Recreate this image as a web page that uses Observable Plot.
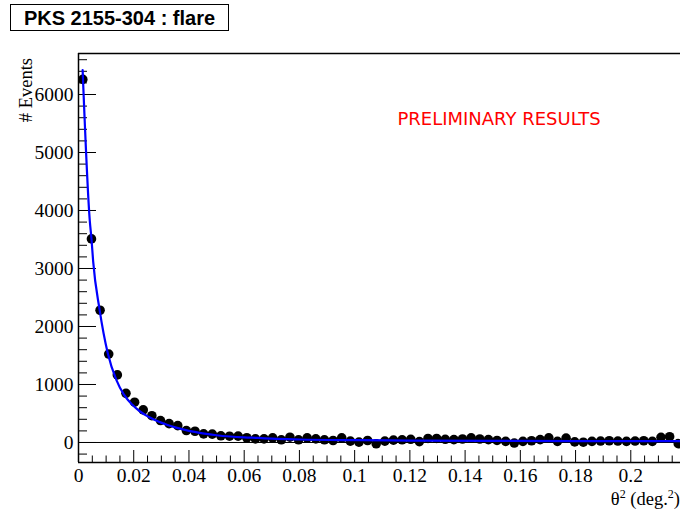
<!DOCTYPE html>
<html>
<head>
<meta charset="utf-8">
<script src="https://cdn.jsdelivr.net/npm/d3@7"></script>
<script src="https://cdn.jsdelivr.net/npm/@observablehq/plot@0.6"></script>
<style>
  html, body { margin: 0; padding: 0; background: #fff; }
  #wrap { position: relative; width: 680px; height: 514px; overflow: hidden; }
  #title { position: absolute; left: 10px; top: 4px; width: 217px; height: 25px;
    border: 1.5px solid #000; font: bold 20px "Liberation Sans", Arial, sans-serif;
    text-align: center; line-height: 26px; color: #000; background: #fff; z-index: 2; }
</style>
</head>
<body>
<div id="wrap"><div id="title">PKS 2155-304 : flare</div></div>
<script>
// bin centres of theta^2 (deg^2)
const theta2 = [0.00156,0.00469,0.00781,0.01094,0.01406,0.01719,0.02031,0.02344,0.02656,0.02969,
  0.03281,0.03594,0.03906,0.04219,0.04531,0.04844,0.05156,0.05469,0.05781,0.06094,
  0.06406,0.06719,0.07031,0.07344,0.07656,0.07969,0.08281,0.08594,0.08906,0.09219,
  0.09531,0.09844,0.10156,0.10469,0.10781,0.11094,0.11406,0.11719,0.12031,0.12344,
  0.12656,0.12969,0.13281,0.13594,0.13906,0.14219,0.14531,0.14844,0.15156,0.15469,
  0.15781,0.16094,0.16406,0.16719,0.17031,0.17344,0.17656,0.17969,0.18281,0.18594,
  0.18906,0.19219,0.19531,0.19844,0.20156,0.20469,0.20781,0.21094,0.21406,0.21719];
// events per bin
const events = [6260,3510,2280,1525,1165,847,695,562,462,378,
  325,290,206,194,149,145,115,108,110,82,
  62,63,80,46,91,46,80,63,46,34,
  80,23,6,34,-23,23,40,46,55,15,
  70,70,55,50,60,80,60,50,35,20,
  -10,20,30,50,80,20,75,10,5,20,
  25,30,25,20,25,30,20,90,100,-20];
// visible error bar half-heights (first bins)
const errors = [80,59,48,39,34];
// fit curve
const fitX = [0.0015,0.0041,0.0047,0.0053,0.0076,0.0106,0.0137,0.0164,0.0195,0.0224,0.0255,0.0287,0.032,0.035,0.04,0.045,0.05,0.055,0.06,0.065,0.07,0.08,0.1,0.12,0.15,0.18,0.218];
const fitY = [6420,3814,3510,3127,2300,1540,1080,830,650,530,440,365,305,260,200,158,125,103,88,78,65,52,40,33,28,24,22];

const xTicksMajor = [0,0.02,0.04,0.06,0.08,0.1,0.12,0.14,0.16,0.18,0.2];
const xTicksMinor = [0.005,0.01,0.015,0.025,0.03,0.035,0.045,0.05,0.055,0.065,0.07,0.075,0.085,0.09,0.095,0.105,0.11,0.115,0.125,0.13,0.135,0.145,0.15,0.155,0.165,0.17,0.175,0.185,0.19,0.195,0.205,0.21,0.215];
const yTicksMajor = [0,1000,2000,3000,4000,5000,6000];
const yTicksMinor = [-200,200,400,600,800,1200,1400,1600,1800,2200,2400,2600,2800,3200,3400,3600,3800,4200,4400,4600,4800,5200,5400,5600,5800,6200,6400,6600];

const xDomain = [0, 0.218];
const yDomain = [-345, 6707];

const points = theta2.map((x, i) => ({x, y: events[i], e: errors[i] || 0}));
const fit = fitX.map((x, i) => ({x, y: fitY[i]}));

const W = 680, H = 514, mL = 78, mT = 53, mB = 52, mR = 0;
const fw = W - mL - mR, fh = H - mT - mB;

const plot = Plot.plot({
  width: W, height: H,
  marginLeft: mL, marginTop: mT, marginBottom: mB, marginRight: mR,
  style: {fontFamily: '"Liberation Serif", "Times New Roman", serif', fontSize: "19.5px", color: "#000", background: "#fff"},
  x: {domain: xDomain},
  y: {domain: yDomain},
  marks: [
    Plot.ruleY([0], {stroke: "#000", strokeWidth: 1}),
    Plot.tickX(xTicksMajor, {x: d => d, stroke: "#000", strokeWidth: 1, insetTop: fh - 12}),
    Plot.tickX(xTicksMinor, {x: d => d, stroke: "#000", strokeWidth: 1, insetTop: fh - 6.5}),
    Plot.tickY(yTicksMajor, {y: d => d, stroke: "#000", strokeWidth: 1, insetRight: fw - 18}),
    Plot.tickY(yTicksMinor, {y: d => d, stroke: "#000", strokeWidth: 1, insetRight: fw - 9}),
    Plot.ruleX(points.filter(d => d.e > 0), {x: "x", y1: d => d.y - d.e, y2: d => d.y + d.e, stroke: "#000", strokeWidth: 1.5}),
    Plot.dot(points, {x: "x", y: "y", r: 4.8, fill: "#000", stroke: "none"}),
    Plot.line(fit, {x: "x", y: "y", stroke: "#0000ff", strokeWidth: 2.2, curve: "monotone-x"}),
    Plot.ruleX([xDomain[0]], {stroke: "#000", strokeWidth: 1.5}),
    Plot.ruleY([yDomain[0]], {stroke: "#000", strokeWidth: 1.5}),
    Plot.ruleY([yDomain[1]], {stroke: "#000", strokeWidth: 1.5}),
    Plot.axisX({ticks: xTicksMajor, tickSize: 0, tickPadding: 6, tickFormat: d => String(d), label: null}),
    Plot.axisY({ticks: yTicksMajor, tickSize: 0, tickPadding: 5, tickFormat: d => String(d), label: null})
  ]
});

const svg = d3.select(plot);
svg.append("text")
  .attr("transform", "translate(32,58) rotate(-90)")
  .attr("text-anchor", "end")
  .attr("font-family", '"Liberation Serif", serif').attr("font-size", 18.5).attr("fill", "#000")
  .text("# Events");
const xt = svg.append("text")
  .attr("x", 680).attr("y", 505)
  .attr("text-anchor", "end")
  .attr("font-family", '"Liberation Serif", serif').attr("font-size", 18.5).attr("fill", "#000");
xt.append("tspan").text("θ");
xt.append("tspan").attr("font-size", 12).attr("dy", -7).text("2");
xt.append("tspan").attr("dy", 7).text(" (deg.");
xt.append("tspan").attr("font-size", 12).attr("dy", -7).text("2");
xt.append("tspan").attr("dy", 7).text(")");
svg.append("text")
  .attr("x", 499).attr("y", 124.5)
  .attr("text-anchor", "middle")
  .attr("font-family", '"DejaVu Sans", sans-serif').attr("font-size", 18).attr("fill", "#ff0000")
  .text("PRELIMINARY RESULTS");

document.getElementById("wrap").appendChild(plot);
</script>
</body>
</html>
